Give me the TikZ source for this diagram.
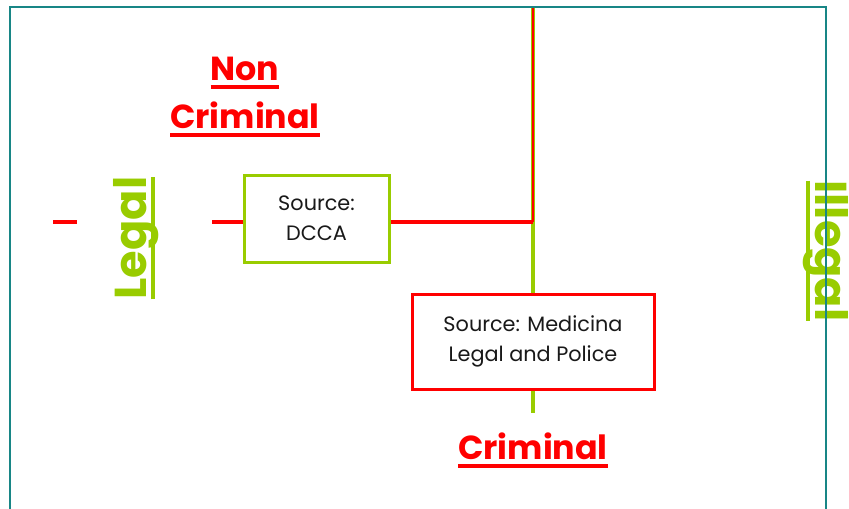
\documentclass[tikz,border=0pt]{standalone}
\usepackage{fontspec}
\setmainfont{Poppins}
\definecolor{lime}{RGB}{153,204,0}
\definecolor{fred}{RGB}{255,0,0}
\definecolor{frameteal}{RGB}{24,134,134}
\definecolor{txt}{RGB}{25,25,25}
\newcommand\ulx[1]{\setbox0=\hbox{#1}\rlap{\rule[-7pt]{\wd0}{3pt}}\box0}
\tikzset{
  srcbox/.style={draw, line width=2.25pt, fill=white, text=txt, align=center,
    font=\fontsize{15.6}{22.5}\selectfont, inner sep=0pt},
  bigred/.style={text=fred, font=\fontsize{25}{36}\selectfont\bfseries, align=center, inner sep=0pt},
  biggreen/.style={text=lime, font=\fontsize{33.5}{40}\selectfont\bfseries, inner sep=0pt},
  redline/.style={draw=fred, line width=2.4pt},
  greenline/.style={draw=lime, line width=3pt},
  frameline/.style={draw=frameteal, line width=1.6pt}
}
\begin{document}
\begin{tikzpicture}[x=0.75pt,y=-0.75pt]
\useasboundingbox (0,0) rectangle (849,508);
\clip (0,0) rectangle (849,508);
% coordinates
\coordinate (gtop) at (533,7);
\coordinate (gbot) at (533,413);
\coordinate (r0) at (53,222);
\coordinate (r1) at (77,222);
\coordinate (r2) at (212,222);
\coordinate (rj) at (533,222);
% green axis
\draw[greenline] (gtop) -- (gbot);
% boxes
\node[srcbox, draw=lime, minimum width=145*0.75pt, minimum height=87*0.75pt] (dcca) at (316.5,218.5) {Source:\\DCCA};
\node[srcbox, draw=fred, minimum width=242*0.75pt, minimum height=95*0.75pt] (med) at (533,341.5) {Source: Medicina\\Legal and Police};
% red lines
\draw[redline] (r0) -- (r1);
\draw[redline] (r2) -- (r2 -| dcca.west);
\draw[redline] (rj -| dcca.east) -- (rj);
\draw[draw=fred, line width=1.1pt] (rj) -- (gtop);
% labels
\node[bigred, anchor=base] (noncrim) at (245,128) {\ulx{Non}\\\ulx{Criminal}};
\node[bigred, anchor=base] (crim) at (533,459) {\ulx{Criminal}};
\node[biggreen, rotate=90, anchor=base] (legal) at (146,238) {\ulx{Legal}};
\node[biggreen, rotate=-90, anchor=base] (illegal) at (815,251) {\ulx{Illegal}};
% frame
\draw[frameline] (10,520) -- (10,7) -- (826,7) -- (826,520);
\end{tikzpicture}
\end{document}
